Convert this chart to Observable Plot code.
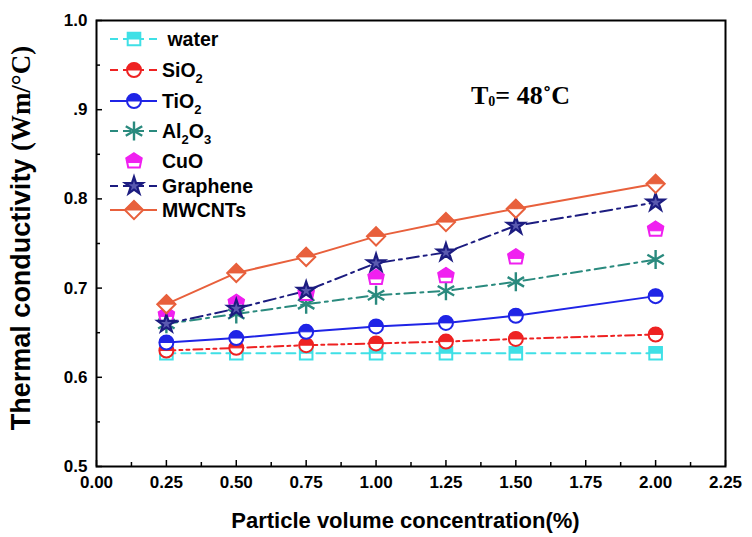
<!DOCTYPE html>
<html>
<head>
<meta charset="utf-8">
<script src="https://cdn.jsdelivr.net/npm/d3@7"></script>
<script src="https://cdn.jsdelivr.net/npm/@observablehq/plot@0.6"></script>
<style>
  html, body { margin: 0; padding: 0; background: #fff; }
</style>
</head>
<body>
<div id="chart"></div>
<script>
// ---- data ----
const conc = [0.25, 0.5, 0.75, 1.0, 1.25, 1.5, 2.0];
const water    = [0.627, 0.627, 0.627, 0.627, 0.627, 0.627, 0.627];
const sio2     = [0.630, 0.633, 0.636, 0.638, 0.640, 0.643, 0.648];
const tio2     = [0.639, 0.644, 0.651, 0.657, 0.661, 0.669, 0.691];
const al2o3    = [0.660, 0.671, 0.682, 0.692, 0.697, 0.707, 0.732];
const cuo      = [0.670, 0.684, 0.694, 0.712, 0.714, 0.735, 0.766];
const graphene = [0.660, 0.677, 0.697, 0.728, 0.740, 0.770, 0.796];
const mwcnts   = [0.682, 0.717, 0.735, 0.758, 0.774, 0.789, 0.817];

const xTicks = [0, 0.25, 0.5, 0.75, 1.0, 1.25, 1.5, 1.75, 2.0, 2.25];
const xTickLabels = ["0.00", "0.25", "0.50", "0.75", "1.00", "1.25", "1.50", "1.75", "2.00", "2.25"];
const xMinor = [0.125, 0.375, 0.625, 0.875, 1.125, 1.375, 1.625, 1.875, 2.125];
const yTicks = [0.5, 0.6, 0.7, 0.8, 0.9, 1.0];
const yTickLabels = ["0.5", "0.6", "0.7", "0.8", ".9", "1.0"];
const yMinor = [0.55, 0.65, 0.75, 0.85, 0.95];

// ---- custom symbols ----
const rOf = s => Math.sqrt(s / Math.PI);
const sym = {
  circle: {draw(c, s) { const r = rOf(s); c.moveTo(r, 0); c.arc(0, 0, r, 0, 2 * Math.PI); c.closePath(); }},
  circleTop: {draw(c, s) { const r = rOf(s); c.moveTo(-r, 0); c.arc(0, 0, r, Math.PI, 2 * Math.PI); c.closePath(); }},
  square: {draw(c, s) { const h = rOf(s) * 0.9; c.rect(-h, -h, 2 * h, 2 * h); }},
  squareTop: {draw(c, s) { const h = rOf(s) * 0.9; c.rect(-h, -h, 2 * h, h); }},
  diamond: {draw(c, s) { const a = rOf(s) * 1.3; c.moveTo(0, -a); c.lineTo(a, 0); c.lineTo(0, a); c.lineTo(-a, 0); c.closePath(); }},
  diamondTop: {draw(c, s) { const a = rOf(s) * 1.3; c.moveTo(0, -a); c.lineTo(a, 0); c.lineTo(-a, 0); c.closePath(); }},
  pent: {draw(c, s) { const a = rOf(s) * 1.1; c.moveTo(0, -a); c.lineTo(a, -a * 0.35); c.lineTo(a * 0.75, a * 0.85); c.lineTo(-a * 0.75, a * 0.85); c.lineTo(-a, -a * 0.35); c.closePath(); }},
  pentTop: {draw(c, s) { const a = rOf(s) * 1.1; c.moveTo(0, -a); c.lineTo(a, -a * 0.35); c.lineTo(a * 0.9, a * 0.2); c.lineTo(-a * 0.9, a * 0.2); c.lineTo(-a, -a * 0.35); c.closePath(); }}
};

// ---- series styling ----
const series = [
  {name: "water",    sub: null, values: water,    color: "#3fe0e6", dash: "9,6",            line: true,  outline: sym.square,  top: sym.squareTop},
  {name: "SiO",      sub: "2",  values: sio2,     color: "#ee2222", dash: "9,4,3,4,3,4",    line: true,  outline: sym.circle,  top: sym.circleTop},
  {name: "TiO",      sub: "2",  values: tio2,     color: "#1f24e6", dash: null,             line: true,  outline: sym.circle,  top: sym.circleTop},
  {name: "Al", sub2: "O", sub: "2", sub3: "3", values: al2o3, color: "#2a8a7e", dash: "11,5,3,5", line: true, builtin: "asterisk"},
  {name: "CuO",      sub: null, values: cuo,      color: "#f020f0", dash: null,             line: false, outline: sym.pent,    top: sym.pentTop},
  {name: "Graphene", sub: null, values: graphene, color: "#1c1c80", dash: "12,5,3,5",       line: true,  builtin: "star"},
  {name: "MWCNTs",   sub: null, values: mwcnts,   color: "#e8603c", dash: null,             line: true,  outline: sym.diamond, top: sym.diamondTop}
];

const W = 752, H = 537;
const mL = 96, mR = 27, mT = 20, mB = 71;
const pw = W - mL - mR, ph = H - mT - mB;

const marks = [];
// inward ticks
marks.push(Plot.ruleY(yTicks, {y: d => d, stroke: "black", strokeWidth: 1.5, insetRight: pw - 6}));
marks.push(Plot.ruleY(yMinor, {y: d => d, stroke: "black", strokeWidth: 1.5, insetRight: pw - 4}));
marks.push(Plot.ruleX(xTicks, {x: d => d, stroke: "black", strokeWidth: 1.5, insetTop: ph - 6}));
marks.push(Plot.ruleX(xMinor, {x: d => d, stroke: "black", strokeWidth: 1.5, insetTop: ph - 4}));

for (const s of series) {
  const data = conc.map((x, i) => ({x, y: s.values[i]}));
  if (s.line) marks.push(Plot.line(data, {x: "x", y: "y", stroke: s.color, strokeWidth: 2, strokeDasharray: s.dash || undefined}));
}
for (const s of series) {
  const data = conc.map((x, i) => ({x, y: s.values[i]}));
  if (s.builtin === "asterisk") {
    marks.push(Plot.dot(data, {x: "x", y: "y", symbol: "asterisk", r: 9, stroke: s.color, strokeWidth: 2.4}));
  } else if (s.builtin === "star") {
    marks.push(Plot.dot(data, {x: "x", y: "y", symbol: "star", r: 5.5, fill: "#5a5ab0", stroke: s.color, strokeWidth: 2.2}));
  } else {
    marks.push(Plot.dot(data, {x: "x", y: "y", symbol: s.outline, r: 7, fill: "white", stroke: s.color, strokeWidth: 2}));
    marks.push(Plot.dot(data, {x: "x", y: "y", symbol: s.top, r: 7, fill: s.color, stroke: s.color, strokeWidth: 1}));
  }
}

marks.push(Plot.axisX(xTicks, {tickSize: 0, tickPadding: 9, tickFormat: (d, i) => xTickLabels[i], fontSize: 17, fontWeight: "bold", label: null}));
marks.push(Plot.axisY(yTicks, {tickSize: 0, tickPadding: 9, tickFormat: (d, i) => yTickLabels[i], fontSize: 17, fontWeight: "bold", label: null}));
marks.push(Plot.frame({stroke: "black", strokeWidth: 2}));

const svg = Plot.plot({
  width: W, height: H,
  marginLeft: mL, marginRight: mR, marginTop: mT, marginBottom: mB,
  style: {fontFamily: "'Liberation Sans', Arial, sans-serif", color: "black", background: "white"},
  x: {domain: [0, 2.25], axis: null},
  y: {domain: [0.5, 1.0], axis: null},
  marks
});

const g = d3.select(svg);

// x axis title
g.append("text")
  .attr("x", mL + pw / 2 - 5).attr("y", 528)
  .attr("text-anchor", "middle")
  .attr("font-family", "'Liberation Sans', Arial, sans-serif")
  .attr("font-weight", "bold").attr("font-size", 22)
  .text("Particle volume concentration(%)");

// y axis title (mixed fonts)
const yt = g.append("text")
  .attr("transform", `translate(30, 238) rotate(-90)`)
  .attr("text-anchor", "middle")
  .attr("font-weight", "bold").attr("font-size", 27);
yt.append("tspan").attr("font-family", "'Liberation Sans', Arial, sans-serif").text("Thermal conductivity ");
yt.append("tspan").attr("font-family", "'Liberation Serif', 'Times New Roman', serif").attr("font-size", 27).text("(Wm/°C)");

// T0 annotation
const t0 = g.append("text")
  .attr("x", 471).attr("y", 104)
  .attr("text-anchor", "start")
  .attr("font-family", "'Liberation Serif', 'Times New Roman', serif")
  .attr("font-weight", "bold").attr("font-size", 26);
t0.append("tspan").text("T");
t0.append("tspan").attr("font-size", 14).attr("dy", 2).text("0");
t0.append("tspan").attr("dy", -2).text("= 48˚C");

// legend
const legY = [39, 70, 101, 131, 161, 186, 210];
series.forEach((s, i) => {
  const y = legY[i];
  const lg = g.append("g");
  if (s.line) {
    lg.append("line").attr("x1", 110).attr("x2", 157).attr("y1", y).attr("y2", y)
      .attr("stroke", s.color).attr("stroke-width", 2)
      .attr("stroke-dasharray", s.dash ? "8,5" : null);
  }
  const tr = `translate(134, ${y})`;
  if (s.builtin === "star") {
    lg.append("path").attr("transform", tr).attr("d", d3.symbol(d3.symbolStar, Math.PI * 30)())
      .attr("fill", "#5a5ab0").attr("stroke", s.color).attr("stroke-width", 2.2);
  } else if (s.builtin === "asterisk") {
    lg.append("path").attr("transform", tr).attr("d", d3.symbol(d3.symbolAsterisk, Math.PI * 81)())
      .attr("fill", "none").attr("stroke", s.color).attr("stroke-width", 2.4);
  } else {
    lg.append("path").attr("transform", tr).attr("d", d3.symbol(s.outline, Math.PI * 49)())
      .attr("fill", "white").attr("stroke", s.color).attr("stroke-width", 2);
    lg.append("path").attr("transform", tr).attr("d", d3.symbol(s.top, Math.PI * 49)())
      .attr("fill", s.color).attr("stroke", s.color).attr("stroke-width", 1);
  }
  const t = lg.append("text").attr("x", 162).attr("y", y + 7)
    .attr("text-anchor", "start")
    .attr("font-family", "'Liberation Sans', Arial, sans-serif")
    .attr("font-weight", "bold").attr("font-size", 19.5);
  t.append("tspan").text(s.name === "water" ? " water" : s.name);
  if (s.sub) {
    t.append("tspan").attr("font-size", 13).attr("dy", 6).text(s.sub);
    if (s.sub2) {
      t.append("tspan").attr("dy", -6).text(s.sub2);
      t.append("tspan").attr("font-size", 13).attr("dy", 6).text(s.sub3);
    }
  }
});

document.getElementById("chart").appendChild(svg);
</script>
</body>
</html>
